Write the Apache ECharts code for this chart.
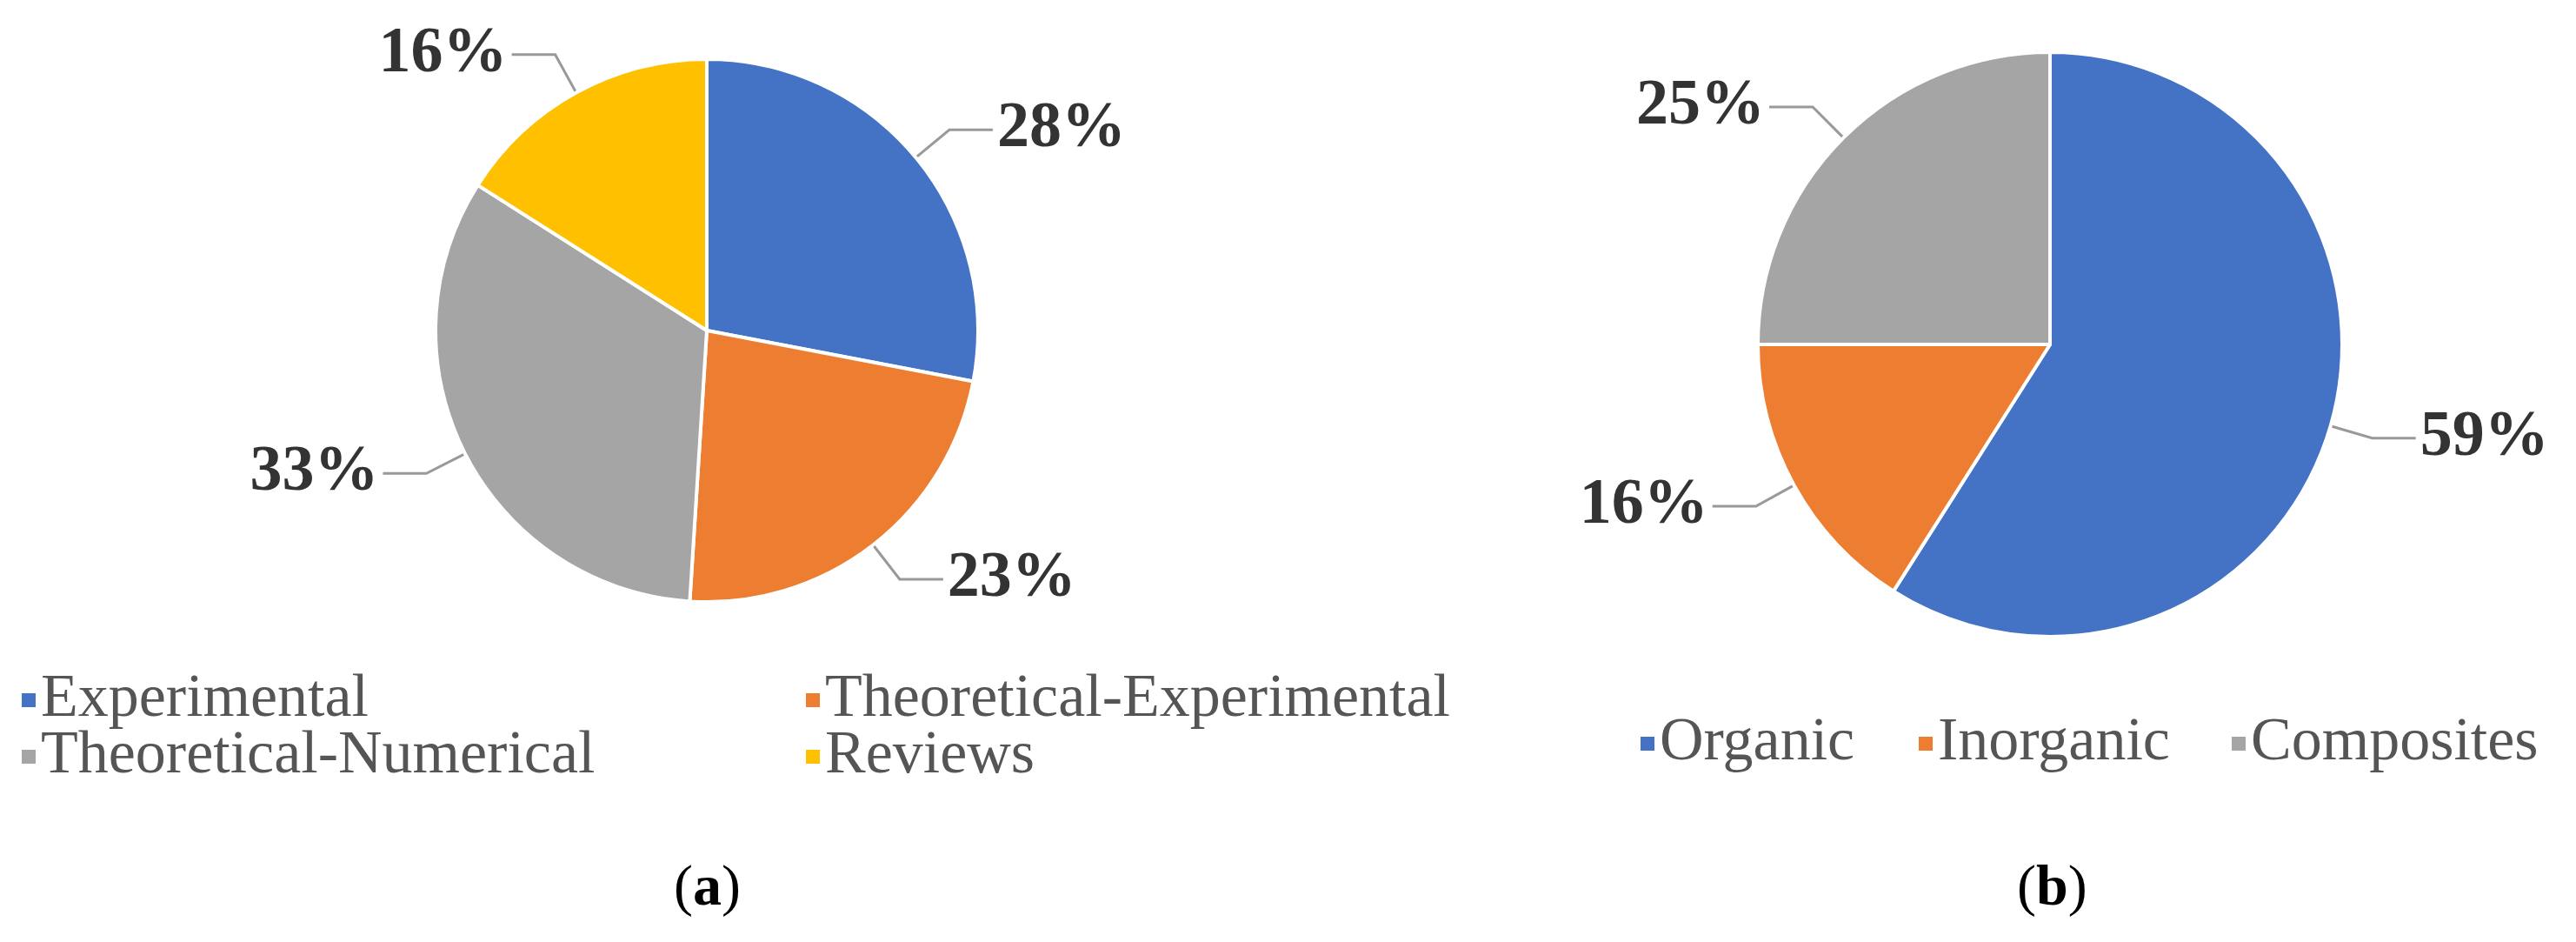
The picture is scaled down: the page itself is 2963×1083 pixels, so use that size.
<!DOCTYPE html>
<html>
<head>
<meta charset="utf-8">
<script src="https://cdn.jsdelivr.net/npm/echarts@6/dist/echarts.min.js"></script>
<style>html,body{margin:0;background:#fff}#c{width:2963px;height:1083px}</style>
</head>
<body>
<div id="c"></div>
<script>
// chart (a)
const namesA = ['Experimental', 'Theoretical-Experimental', 'Theoretical-Numerical', 'Reviews'];
const valuesA = [28, 23, 33, 16];
// chart (b)
const namesB = ['Organic', 'Inorganic', 'Composites'];
const valuesB = [59, 16, 25];

const colorMap = {
  'Experimental': '#4472C4', 'Theoretical-Experimental': '#ED7D31',
  'Theoretical-Numerical': '#A5A5A5', 'Reviews': '#FFC000',
  'Organic': '#4472C4', 'Inorganic': '#ED7D31', 'Composites': '#A5A5A5'
};
const font = 'Liberation Serif';

function pieSeries(names, values, center, radius) {
  return {
    type: 'pie',
    center: center,
    radius: radius,
    startAngle: 90,
    clockwise: true,
    itemStyle: { borderColor: '#fff', borderWidth: 4 },
    label: {
      show: true,
      formatter: '{c}%',
      fontFamily: font,
      fontWeight: 'bold',
      fontSize: 74,
      color: '#333'
    },
    labelLine: { show: true, length: 50, length2: 50, lineStyle: { color: '#999', width: 3 } },
    emphasis: { disabled: true },
    data: names.map((n, i) => ({ name: n, value: values[i], itemStyle: { color: colorMap[n] } }))
  };
}

const legendText = { fontFamily: font, fontSize: 70, color: '#555' };
function leg(name, left, top) {
  return { data: [name], left: left, top: top, itemWidth: 18, itemHeight: 18, itemGap: 0, icon: 'rect', textStyle: legendText };
}

const chart = echarts.init(document.getElementById('c'));
chart.setOption({
  animation: false,
  legend: [
    leg('Experimental', 18, 765),
    leg('Theoretical-Experimental', 920, 765),
    leg('Theoretical-Numerical', 18, 830),
    leg('Reviews', 920, 830),
    leg('Organic', 1880, 815),
    leg('Inorganic', 2200, 815),
    leg('Composites', 2560, 815)
  ],
  graphic: [
    { type: 'text', left: 775, top: 990, style: { text: '({b|a})', rich: { b: { fontWeight: 'bold', fontSize: 66, fontFamily: font } }, font: '66px "Liberation Serif"', fill: '#000' } },
    { type: 'text', left: 2320, top: 990, style: { text: '({b|b})', rich: { b: { fontWeight: 'bold', fontSize: 66, fontFamily: font } }, font: '66px "Liberation Serif"', fill: '#000' } }
  ],
  series: [
    pieSeries(namesA, valuesA, [813, 380], 312),
    pieSeries(namesB, valuesB, [2358, 396], 336)
  ]
});
</script>
</body>
</html>
